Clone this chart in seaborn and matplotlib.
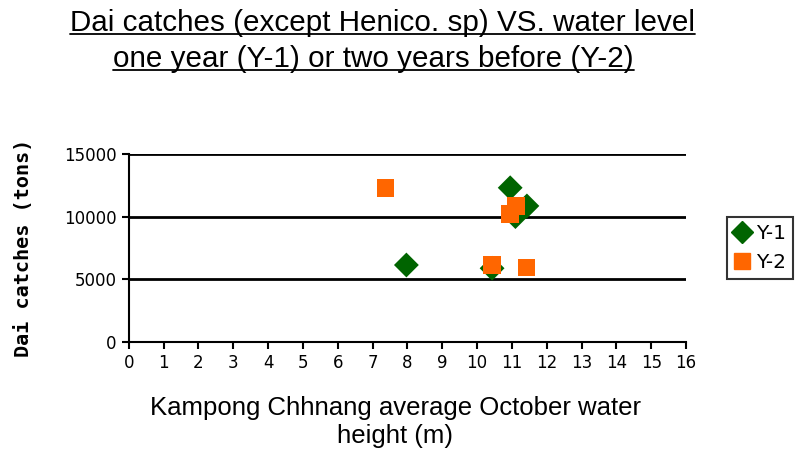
import matplotlib
matplotlib.use("Agg")
import matplotlib.pyplot as plt
import seaborn as sns
import pandas as pd
from matplotlib.lines import Line2D

# water height (m) and catches (tons)
y1_height = [10.95, 11.43, 11.1, 7.97, 10.43]
y1_catch = [12300, 10850, 10000, 6140, 5880]
y2_height = [7.37, 11.11, 10.95, 10.43, 11.42]
y2_catch = [12300, 10850, 10190, 6140, 5930]

df = pd.concat([
    pd.DataFrame({"height": y1_height, "catch": y1_catch, "series": "Y-1"}),
    pd.DataFrame({"height": y2_height, "catch": y2_catch, "series": "Y-2"}),
])

sns.set_style("white")
plt.rcParams["font.family"] = ["Liberation Sans", "DejaVu Sans"]
plt.rcParams["text.color"] = "black"
plt.rcParams["axes.labelcolor"] = "black"
plt.rcParams["xtick.color"] = "black"
plt.rcParams["ytick.color"] = "black"

fig = plt.figure(figsize=(7.95, 4.5), dpi=100)
ax = fig.add_axes([0.162, 0.24, 0.701, 0.418])

sns.scatterplot(data=df, x="height", y="catch", hue="series", style="series",
                markers={"Y-1": "D", "Y-2": "s"},
                palette={"Y-1": "#006400", "Y-2": "#FF6600"},
                s=160, linewidth=0, ax=ax, legend=False, zorder=3)

ax.set_xlim(0, 16)
ax.set_ylim(0, 15000)
ax.set_xticks(range(0, 17))
ax.set_yticks([0, 5000, 10000, 15000])
for yv in [5000, 10000, 15000]:
    ax.axhline(yv, color="black", linewidth=2, zorder=1)
ax.tick_params(axis="both", labelsize=12, direction="out", length=5, width=1.5,
               color="black", bottom=True, left=True, pad=4)
for lab in ax.get_xticklabels() + ax.get_yticklabels():
    lab.set_family("DejaVu Sans")
for side in ["top", "right"]:
    ax.spines[side].set_visible(False)
for side in ["left", "bottom"]:
    ax.spines[side].set_color("black")
    ax.spines[side].set_linewidth(1.5)

ax.set_xlabel("Kampong Chhnang average October water\nheight (m)", fontsize=18.5,
              labelpad=17, linespacing=1.18)
ax.xaxis.label.set_x(0.478)
ax.set_ylabel("Dai catches (tons)", fontsize=14.5, fontweight="bold",
              family="DejaVu Sans Mono", labelpad=22)

handles = [
    Line2D([], [], marker="D", color="#006400", linestyle="", markersize=11),
    Line2D([], [], marker="s", color="#FF6600", linestyle="", markersize=12),
]
leg = fig.legend(handles, ["Y-1", "Y-2"], loc="center left",
                 bbox_to_anchor=(0.914, 0.449), fontsize=14.5, frameon=True,
                 fancybox=False, handlelength=0.8, handletextpad=0.3,
                 borderpad=0.35, labelspacing=0.5, borderaxespad=0)
leg.get_frame().set_edgecolor("black")
leg.get_frame().set_linewidth(1.5)
for txt in leg.get_texts():
    txt.set_family("DejaVu Sans")

t1 = fig.text(0.481, 0.931, "Dai catches (except Henico. sp) VS. water level",
              ha="center", va="baseline", fontsize=21.3)
t2 = fig.text(0.470, 0.851, "one year (Y-1) or two years before (Y-2)",
              ha="center", va="baseline", fontsize=21.3)

# underline the title lines
fig.canvas.draw()
r = fig.canvas.get_renderer()
for t in (t1, t2):
    bb = t.get_window_extent(r).transformed(fig.transFigure.inverted())
    ypos = t.get_position()[1] - 0.007
    fig.add_artist(Line2D([bb.x0, bb.x1], [ypos, ypos], color="black",
                          linewidth=1.3, transform=fig.transFigure))

fig.savefig("out.png", dpi=100, facecolor="white")
